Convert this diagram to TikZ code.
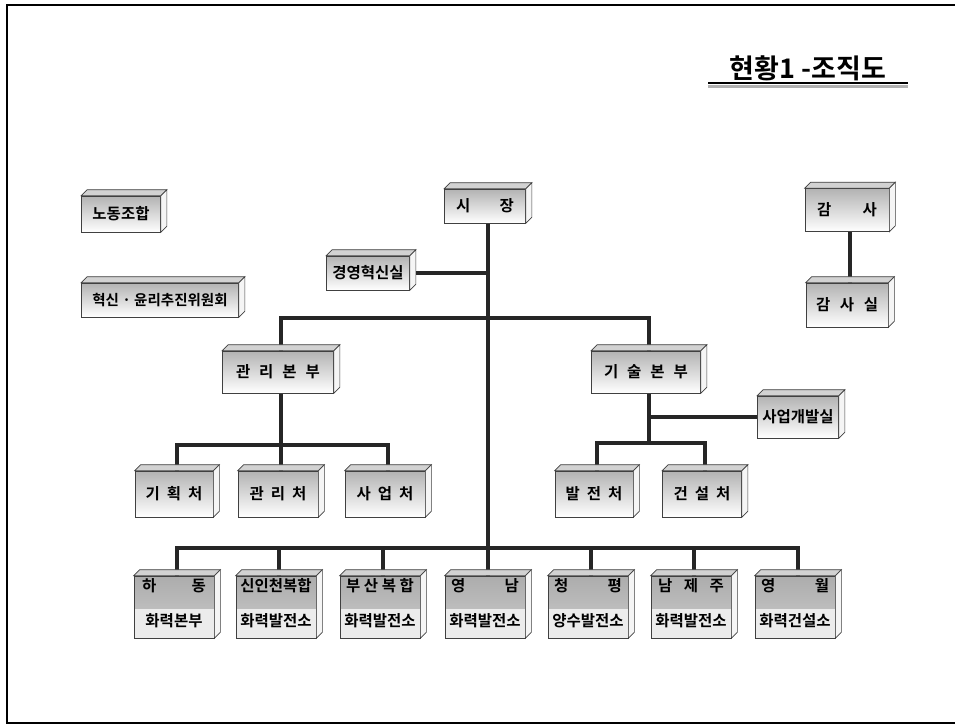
\documentclass[tikz,border=0pt]{standalone}
\usepackage{fontspec}
\setmainfont{Noto Sans CJK KR}[BoldFont={Noto Sans CJK KR Bold}]
\usetikzlibrary{backgrounds}
\tikzset{
  conn/.style={line width=3.5pt, draw=black!85},
  fbox/.style={draw=black!75, line width=0.7pt, inner sep=0pt,
    font=\bfseries\fontsize{15.5}{17}\selectfont, top color=gray!60, bottom color=white},
  lbox/.style={draw=black!75, line width=0.7pt, inner sep=0pt,
    path picture={
      \fill[top color=gray!65, bottom color=gray!40] (path picture bounding box.north west) rectangle ([yshift=-2pt]path picture bounding box.east);
      \fill[gray!15] ([yshift=-2pt]path picture bounding box.east) rectangle (path picture bounding box.south west);}},
  txt/.style={inner sep=0pt, font=\bfseries\fontsize{15.5}{17}\selectfont},
  face/.style={draw=black!75, line width=0.7pt, fill=gray!35},
  sface/.style={draw=black!75, line width=0.7pt, fill=gray!8},
}
\newcommand\faces[1]{%
  \draw[face] (#1.north west) -- ++(6,-6) -- ([shift={(6,-6)}]#1.north east) -- (#1.north east) -- cycle;
  \draw[sface] (#1.north east) -- ++(6,-6) -- ([shift={(6,-6)}]#1.south east) -- (#1.south east) -- cycle;}
\newcommand\ubox[6]{%
  \node[fbox, minimum width=#4pt, minimum height=#5pt] (#1) at (#2,#3) {#6};
  \faces{#1}}
\newcommand\bbox[4]{%
  \node[lbox, minimum width=80pt, minimum height=62pt] (#1) at (#2,607) {};
  \node[txt] (#1-a) at (#2,586) {#3};
  \node[txt] (#1-b) at (#2,621) {#4};
  \faces{#1}}
\newcommand\spr[2]{\hbox to #1pt{#2}}
\begin{document}
\begin{tikzpicture}[x=1pt, y=-1pt]
\useasboundingbox (0,0) rectangle (955,726);
\draw[line width=1.5pt] (956,5) -- (7,5) -- (7,723) -- (956,723);
% title
\node[inner sep=0pt, font=\bfseries\fontsize{27}{30}\selectfont] (title) at (808,68) {현황1 -조직도};
\draw[line width=2pt] (708,83) -- (908,83);
\draw[line width=3pt, gray!60] (708,86.5) -- (908,86.5);
% side boxes
\ubox{rodong}{121}{214}{79}{36}{노동조합}
\ubox{hyeoksin}{160}{300}{157}{34}{\fontsize{14.5}{16}\selectfont 혁신 · 윤리추진위원회}
\ubox{gamsa}{847}{210}{84}{43}{\spr{60}{감\hfill 사}}
\ubox{gamsasil}{847}{305}{82}{44}{\spr{62}{감\hfill 사\hfill 실}}
% main
\ubox{sijang}{485}{206}{81}{34}{\spr{58}{시\hfill 장}}
\ubox{gyeong}{368}{273}{83}{34}{경영혁신실}
\ubox{gwanribonbu}{278}{372}{111}{42}{\spr{84}{관\hfill 리\hfill 본\hfill 부}}
\ubox{gisulbonbu}{646}{372}{109}{42}{\spr{84}{기\hfill 술\hfill 본\hfill 부}}
\ubox{saeopgaebal}{798}{417}{81}{42}{사업개발실}
\ubox{gihoek}{174}{494}{78}{46}{\spr{57}{기\hfill 획\hfill 처}}
\ubox{gwanricheo}{278}{494}{80}{46}{\spr{57}{관\hfill 리\hfill 처}}
\ubox{saeopcheo}{385}{494}{80}{46}{\spr{57}{사\hfill 업\hfill 처}}
\ubox{baljeon}{594}{494}{78}{46}{\spr{57}{발\hfill 전\hfill 처}}
\ubox{geonseol}{702}{494}{79}{46}{\spr{57}{건\hfill 설\hfill 처}}
% bottom row
\bbox{hadong}{174}{\spr{64}{하\hfill 동}}{화력본부}
\bbox{sinincheon}{276}{신인천복합}{화력발전소}
\bbox{busan}{380}{\spr{68}{부\hfill 산\hfill 복\hfill 합}}{화력발전소}
\bbox{yeongnam}{485}{\spr{68}{영\hfill 남}}{화력발전소}
\bbox{cheongpyeong}{588}{\spr{68}{청\hfill 평}}{양수발전소}
\bbox{namjeju}{691}{\spr{66}{남\hfill 제\hfill 주}}{화력발전소}
\bbox{yeongwol}{795}{\spr{68}{영\hfill 월}}{화력건설소}
% connectors
\coordinate (j1) at (488,318);
\coordinate (j2) at (281,445);
\coordinate (j3) at (649,443);
\coordinate (j4) at (488,548);
\begin{scope}[on background layer]
\draw[conn] ([xshift=3pt]sijang.south) -- ([xshift=3pt]yeongnam.north);
\draw[conn] (gyeong.east) -- (gyeong.east -| j1);
\draw[conn] ([xshift=3pt]gwanribonbu.north) |- (j1) -| ([xshift=3pt]gisulbonbu.north);
\draw[conn] ([xshift=3pt]gwanribonbu.south) -- ([xshift=3pt]gwanricheo.north);
\draw[conn] ([xshift=3pt]gihoek.north) |- (j2) -| ([xshift=3pt]saeopcheo.north);
\draw[conn] ([xshift=3pt]gisulbonbu.south) -- (j3);
\draw[conn] (saeopgaebal.west -| j3) -- (saeopgaebal.west);
\draw[conn] ([xshift=3pt]baljeon.north) |- (j3) -| ([xshift=3pt]geonseol.north);
\draw[conn] ([xshift=3pt]hadong.north) |- (j4) -| ([xshift=3pt]yeongwol.north);
\draw[conn] ([xshift=3pt]sinincheon.north) -- ([xshift=3pt]sinincheon.north |- j4);
\draw[conn] ([xshift=3pt]busan.north) -- ([xshift=3pt]busan.north |- j4);
\draw[conn] ([xshift=3pt]cheongpyeong.north) -- ([xshift=3pt]cheongpyeong.north |- j4);
\draw[conn] ([xshift=3pt]namjeju.north) -- ([xshift=3pt]namjeju.north |- j4);
\draw[conn] ([xshift=3pt]gamsa.south) -- ([xshift=3pt]gamsasil.north);
\end{scope}
\end{tikzpicture}
\end{document}
